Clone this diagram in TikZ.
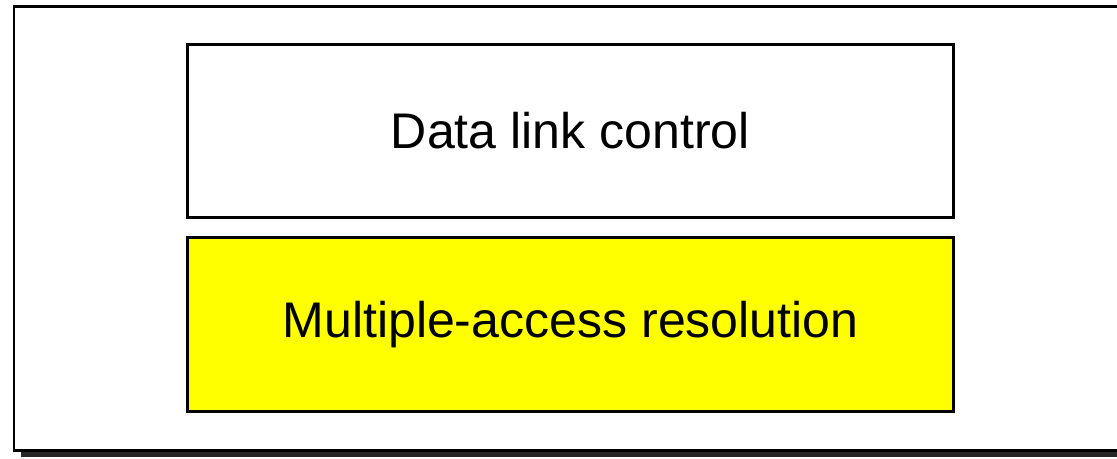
\documentclass[tikz,border=0pt]{standalone}
\usepackage{fontspec}
\setmainfont{Liberation Sans}
\usetikzlibrary{positioning}
\definecolor{accessYellow}{RGB}{255, 255, 0}

\begin{document}
\begin{tikzpicture} [
        x=0.02cm, y=-0.02cm,
        frame/.style={draw, line width=1.7pt, fill=white},
        shadow/.style={fill=black!85},
        layer/.style={draw, line width=1.7pt, outer sep=0pt, minimum width=15.34cm, minimum height=3.48cm, font=\fontsize{28.5}{34}\selectfont},
        dlc/.style={layer, fill=white},
        mac/.style={layer, fill=accessYellow},
    ]
    \useasboundingbox (0,0) rectangle (1117,458);

    \fill[shadow] (21,13) rectangle (1140,457);
    \draw[frame] (14,6) rectangle (1134,450);

    \node[dlc] (dlc) at (570.5,131) {Data link control};
    \node[mac, below=0.4cm of dlc] (mac) {Multiple-access resolution};

\end{tikzpicture}
\end{document}
